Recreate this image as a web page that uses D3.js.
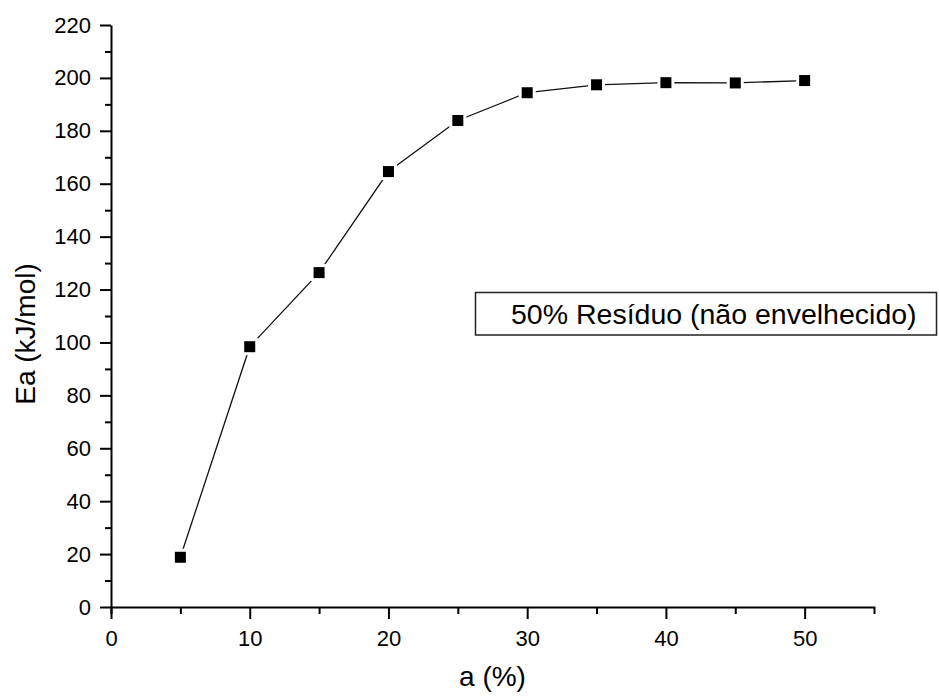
<!DOCTYPE html>
<html>
<head>
<meta charset="utf-8">
<script src="https://cdn.jsdelivr.net/npm/d3@7"></script>
<style>
  body { margin: 0; background: #fff; }
  text { font-family: 'Liberation Sans', Arial, sans-serif; fill: #000; }
</style>
</head>
<body>
<div id="chart"></div>
<script>
// data
let alpha = [5, 10, 15, 20, 25, 30, 35, 40, 45, 50];
let ea = [18.8, 98.4, 126.4, 164.6, 183.9, 194.4, 197.4, 198.2, 198.1, 199.0];
let xTicks = [0, 10, 20, 30, 40, 50];
let yTicks = [0, 20, 40, 60, 80, 100, 120, 140, 160, 180, 200, 220];
let legendLabel = '50% Resíduo (não envelhecido)';

let width = 939,
    height = 698,
    x0 = 111, x1 = 874,
    y0 = 607, y1 = 25,
    svg = d3.select('#chart').append('svg')
        .attr('width', width)
        .attr('height', height);

let x = d3.scaleLinear().domain([0, 55]).range([x0, x1]);
let y = d3.scaleLinear().domain([0, 220]).range([y0, y1]);

// minor ticks first, major axis on top
svg.append('g')
    .attr('transform', 'translate(0,' + y0 + ')')
    .call(d3.axisBottom(x).tickValues(d3.range(5, 55, 10)).tickSize(7).tickFormat(''))
    .call(g => g.select('.domain').remove());
svg.append('g')
    .attr('transform', 'translate(' + x0 + ',0)')
    .call(d3.axisLeft(y).tickValues(d3.range(10, 220, 20)).tickSize(6).tickFormat(''))
    .call(g => g.select('.domain').remove());

let xAxis = svg.append('g')
    .attr('transform', 'translate(0,' + y0 + ')')
    .call(d3.axisBottom(x).tickValues(xTicks).tickSize(12).tickPadding(11).tickSizeOuter(7));
let yAxis = svg.append('g')
    .attr('transform', 'translate(' + x0 + ',0)')
    .call(d3.axisLeft(y).tickValues(yTicks).tickSize(11).tickPadding(9).tickSizeOuter(0));

svg.selectAll('.domain, .tick line')
    .style('stroke', '#000')
    .style('stroke-width', '2px');
svg.selectAll('.tick text')
    .style('font-size', '22px')
    .style('font-family', "'Liberation Sans', Arial, sans-serif");

// axis titles
svg.append('text')
    .attr('x', (x0 + x1) / 2)
    .attr('y', 686)
    .attr('text-anchor', 'middle')
    .style('font-size', '28px')
    .text('a (%)');
svg.append('text')
    .attr('transform', 'translate(35,334) rotate(-90)')
    .attr('text-anchor', 'middle')
    .style('font-size', '28px')
    .text('Ea (kJ/mol)');

// line
let pts = alpha.map((a, i) => [a, ea[i]]);
svg.append('path')
    .datum(pts)
    .attr('fill', 'none')
    .attr('stroke', '#111')
    .attr('stroke-width', 1.3)
    .attr('d', d3.line().x(d => x(d[0])).y(d => y(d[1])));

// white halo leaves a small gap between line and marker
let ms = 11;
svg.selectAll('rect.halo')
    .data(pts)
    .enter().append('rect')
    .attr('class', 'halo')
    .attr('x', d => x(d[0]) - ms / 2 - 3)
    .attr('y', d => y(d[1]) - ms / 2 - 3)
    .attr('width', ms + 6)
    .attr('height', ms + 6)
    .attr('fill', '#fff');
svg.selectAll('rect.mark')
    .data(pts)
    .enter().append('rect')
    .attr('class', 'mark')
    .attr('x', d => x(d[0]) - ms / 2)
    .attr('y', d => y(d[1]) - ms / 2)
    .attr('width', ms)
    .attr('height', ms)
    .attr('fill', '#000');

// legend box
svg.append('rect')
    .attr('x', 475.5)
    .attr('y', 292.5)
    .attr('width', 461)
    .attr('height', 42.5)
    .attr('fill', '#fff')
    .attr('stroke', '#222')
    .attr('stroke-width', 1.5);
svg.append('text')
    .attr('x', 511)
    .attr('y', 324)
    .style('font-size', '28.5px')
    .text(legendLabel);
</script>
</body>
</html>
